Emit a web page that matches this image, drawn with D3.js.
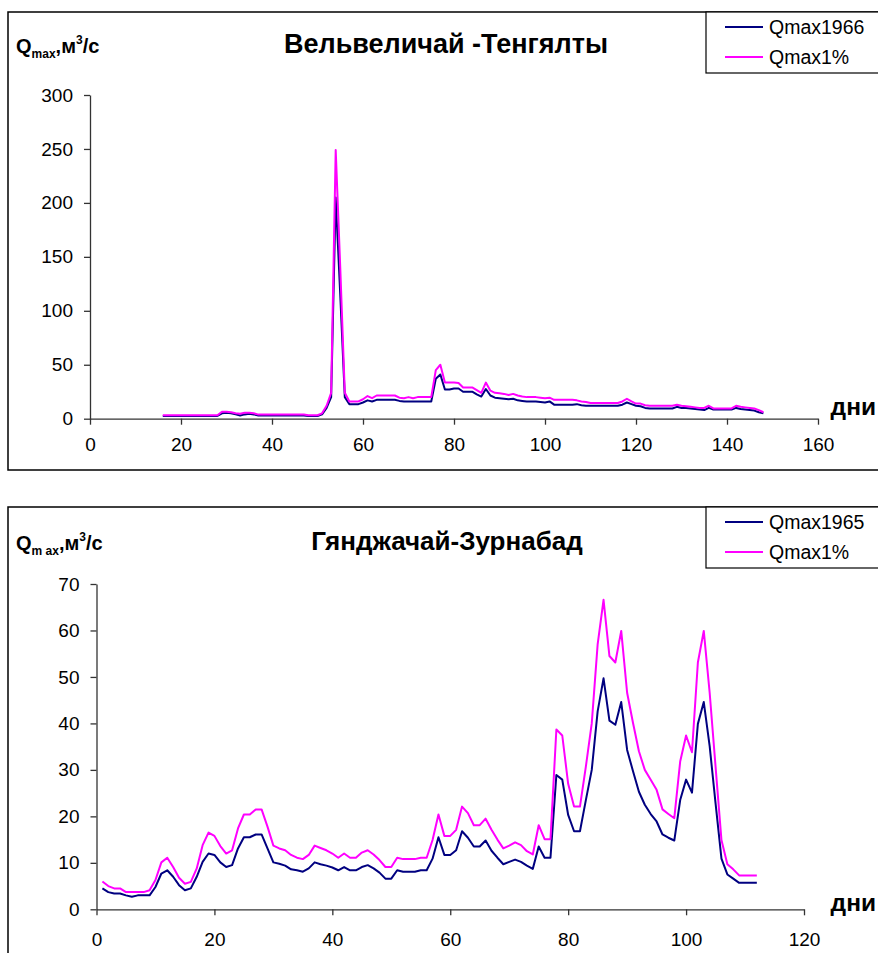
<!DOCTYPE html>
<html>
<head>
<meta charset="utf-8">
<script src="https://cdn.jsdelivr.net/npm/d3@7"></script>
<style>
  body { margin: 0; background: #fff; }
  svg text { font-family: Arial, "Liberation Sans", sans-serif; fill: #000; }
</style>
</head>
<body>
<svg id="chart" width="878" height="953"></svg>
<script>
// Вельвеличай - Тенгялты: daily maximum discharge, days 16..148
const velFirstDay = 16;
const velQmax1966 = [
  2.5, 2.5, 2.5, 2.5, 2.5, 2.5, 2.5, 2.5, 2.5, 2.5,
  2.5, 2.5, 2.5, 5, 5.5, 5, 4, 3, 4, 4.5,
  4, 3, 3, 3, 3, 3, 3, 3, 3, 3,
  3, 3, 2.5, 2.5, 2.5, 4, 10, 20, 205, 115,
  20, 13.5, 13.5, 13.5, 15, 17, 16, 17.5, 17.5, 17.5,
  17.5, 17.5, 16.5, 16, 16, 16, 16, 16, 16, 16,
  37, 41, 27, 27, 28, 28, 25, 25, 25, 22.5,
  20.5, 27.5, 21.5, 19.5, 19, 18.5, 18, 18.5, 17, 16.5,
  16, 16, 16, 15.5, 15, 16, 13, 13, 13, 13,
  13, 13.5, 12.5, 12, 12, 12, 12, 12, 12, 12,
  12, 13, 15, 13.5, 12, 11.5, 10, 9.5, 9.5, 9.5,
  9.5, 9.5, 9.5, 11, 10, 10, 9.5, 9, 8.5, 8,
  10, 8.5, 8.5, 8.5, 8.5, 8.5, 10, 9, 8.5, 8,
  7.5, 6, 5
];
const velQmax1pct = [
  3.2, 3.2, 3.2, 3.2, 3.2, 3.2, 3.2, 3.2, 3.2, 3.2,
  3.2, 3.2, 3.2, 6.5, 6.5, 6, 5, 4.5, 5.5, 5.5,
  5, 3.8, 3.8, 3.8, 3.8, 3.8, 3.8, 3.8, 3.8, 3.8,
  3.8, 3.8, 3.2, 3.2, 3.2, 5, 12, 24, 249, 140,
  24, 16, 16, 16, 18, 21, 19, 21.5, 21.5, 21.5,
  21.5, 21.5, 19.5, 19, 20, 19, 20, 20, 20, 20,
  45, 50, 33.5, 33.5, 33.5, 33, 29, 29, 29, 26.5,
  24, 33.5, 26, 24, 23.5, 23, 22, 23, 21.5, 20.5,
  20, 20, 20, 19.5, 19, 19.5, 17.5, 17.5, 17.5, 17.5,
  17.5, 17, 16, 15.5, 14.5, 14.5, 14.5, 14.5, 14.5, 14.5,
  14.5, 16, 18.5, 16, 14, 14, 12.5, 12, 12, 12,
  12, 12, 12, 13, 12, 11.5, 11, 10.5, 10, 10,
  12, 9.5, 9.5, 9.5, 9.5, 9.5, 12, 11, 10.5, 10,
  9.5, 8, 6
];
const velXTicks = [0, 20, 40, 60, 80, 100, 120, 140, 160];
const velYTicks = [0, 50, 100, 150, 200, 250, 300];

// Гянджачай - Зурнабад: daily maximum discharge, days 1..112
const ganFirstDay = 1;
const ganQmax1965 = [
  4.5, 3.7, 3.4, 3.4, 3.0, 2.7, 3.0, 3.0, 3.0, 4.8,
  7.7, 8.4, 7.0, 5.2, 4.1, 4.5, 7.0, 10.2, 12.0, 11.7,
  10.1, 9.1, 9.5, 13.1, 15.5, 15.5, 16.1, 16.1, 13.1, 10.1,
  9.8, 9.4, 8.6, 8.4, 8.1, 8.8, 10.1, 9.7, 9.4, 9.0,
  8.4, 9.1, 8.4, 8.4, 9.1, 9.5, 8.8, 7.9, 6.6, 6.6,
  8.4, 8.1, 8.1, 8.1, 8.4, 8.4, 10.9, 15.5, 11.7, 11.7,
  12.7, 16.8, 15.4, 13.5, 13.5, 14.8, 12.6, 11.1, 9.7, 10.2,
  10.7, 10.2, 9.4, 8.7, 13.5, 11.1, 11.1, 28.9, 27.9, 20.3,
  16.8, 16.8, 23.5, 30.0, 42.6, 49.7, 40.6, 39.7, 44.6, 34.3,
  29.7, 25.3, 22.5, 20.5, 18.9, 16.1, 15.4, 14.8, 23.5, 27.9,
  25.1, 39.9, 44.6, 35.1, 22.8, 10.9, 7.5, 6.6, 5.7, 5.7,
  5.7, 5.7
];
const ganQmax1pct = [
  6.0, 5.0, 4.5, 4.5, 3.7, 3.7, 3.7, 3.7, 4.1, 6.3,
  10.1, 11.1, 9.1, 6.8, 5.5, 5.9, 8.8, 13.8, 16.5, 15.8,
  13.6, 12.0, 12.7, 17.4, 20.4, 20.4, 21.5, 21.5, 17.8, 13.7,
  13.1, 12.7, 11.7, 11.1, 10.8, 11.7, 13.7, 13.2, 12.7, 12.0,
  11.1, 12.0, 11.1, 11.1, 12.2, 12.7, 11.8, 10.6, 9.1, 9.1,
  11.1, 10.8, 10.8, 10.8, 11.1, 11.1, 14.9, 20.4, 15.8, 15.8,
  17.1, 22.1, 20.7, 18.1, 18.1, 19.5, 17.1, 15.0, 13.1, 13.7,
  14.4, 13.8, 12.5, 11.8, 18.1, 15.1, 15.1, 38.7, 37.4, 27.0,
  22.1, 22.1, 30.7, 40.0, 57.0, 66.6, 54.5, 53.1, 59.9, 46.6,
  40.1, 34.0, 30.0, 27.9, 25.7, 21.5, 20.5, 19.6, 31.8, 37.4,
  33.8, 53.1, 59.9, 46.6, 30.7, 14.9, 9.7, 8.6, 7.3, 7.3,
  7.3, 7.3
];
const ganXTicks = [0, 20, 40, 60, 80, 100, 120];
const ganYTicks = [0, 10, 20, 30, 40, 50, 60, 70];

const NAVY = "#000080";
const MAGENTA = "#ff00ff";

const svg = d3.select("#chart");

function drawPanel(p) {
  const g = svg.append("g");

  // outer chart frame
  g.append("rect")
    .attr("x", p.frame.x).attr("y", p.frame.y)
    .attr("width", p.frame.w).attr("height", p.frame.h)
    .attr("fill", "none").attr("stroke", "#000").attr("stroke-width", 1.5);

  const x = d3.scaleLinear().domain(p.xDomain).range(p.xRange);
  const y = d3.scaleLinear().domain(p.yDomain).range(p.yRange);

  // axes
  const xAxis = d3.axisBottom(x).tickValues(p.xTicks).tickSize(6).tickSizeOuter(0).tickPadding(p.xPad);
  const yAxis = d3.axisLeft(y).tickValues(p.yTicks).tickSize(6).tickSizeOuter(0).tickPadding(11);

  const gx = g.append("g").attr("transform", `translate(0,${p.yRange[0]})`).call(xAxis);
  const gy = g.append("g").attr("transform", `translate(${p.xRange[0]},0)`).call(yAxis);
  [gx, gy].forEach(a => {
    a.selectAll("path, line").attr("stroke", "#333").attr("stroke-width", 1.3);
    a.selectAll("text").attr("font-size", 19).attr("fill", "#000")
      .attr("font-family", 'Arial, "Liberation Sans", sans-serif');
  });

  // series lines
  const line = d3.line()
    .x((d, i) => x(p.firstDay + i))
    .y(d => y(d));
  p.series.forEach(s => {
    g.append("path").datum(s.values)
      .attr("d", line)
      .attr("fill", "none")
      .attr("stroke", s.color)
      .attr("stroke-width", 2)
      .attr("stroke-linejoin", "round");
  });

  // title
  g.append("text")
    .attr("x", p.titleX).attr("y", p.titleY)
    .attr("text-anchor", "middle")
    .attr("font-size", p.titleSize).attr("font-weight", "bold")
    .text(p.title);

  // y-axis unit label: Q_max, м³/с
  const q = g.append("text")
    .attr("x", 16).attr("y", p.titleY)
    .attr("font-weight", "bold").attr("font-size", 20);
  q.append("tspan").text("Q");
  q.append("tspan").attr("font-size", 12).attr("dy", 5).text(p.subText);
  q.append("tspan").attr("dy", -5).text(",м");
  q.append("tspan").attr("font-size", 12).attr("dy", -9).text("3");
  q.append("tspan").attr("dy", 9).text("/с");

  // x-axis unit label
  g.append("text")
    .attr("x", 876).attr("y", p.daysY)
    .attr("text-anchor", "end")
    .attr("font-size", 24.5).attr("font-weight", "bold")
    .text("дни");

  // legend
  const lg = g.append("g");
  lg.append("rect")
    .attr("x", 706).attr("y", p.frame.y)
    .attr("width", 200).attr("height", 61)
    .attr("fill", "#fff").attr("stroke", "#000").attr("stroke-width", 1.2);
  p.series.forEach((s, i) => {
    const ly = p.frame.y + 15 + i * 30;
    lg.append("line")
      .attr("x1", 725).attr("x2", 763).attr("y1", ly).attr("y2", ly)
      .attr("stroke", s.color).attr("stroke-width", 2);
    lg.append("text")
      .attr("x", 769).attr("y", ly + 7)
      .attr("font-size", 19.5)
      .text(s.name);
  });
}

drawPanel({
  frame: { x: 8, y: 12, w: 890, h: 458 },
  xDomain: [0, 160], xRange: [90, 818],
  yDomain: [0, 300], yRange: [418.7, 95],
  xTicks: velXTicks, yTicks: velYTicks, xPad: 13,
  firstDay: velFirstDay,
  series: [
    { name: "Qmax1966", values: velQmax1966, color: NAVY },
    { name: "Qmax1%", values: velQmax1pct, color: MAGENTA }
  ],
  title: "Вельвеличай -Тенгялты", titleX: 446, titleY: 53, titleSize: 27,
  subText: "max", daysY: 415
});

drawPanel({
  frame: { x: 8, y: 507, w: 890, h: 470 },
  xDomain: [0, 120], xRange: [96.5, 804],
  yDomain: [0, 70], yRange: [909.3, 584],
  xTicks: ganXTicks, yTicks: ganYTicks, xPad: 17,
  firstDay: ganFirstDay,
  series: [
    { name: "Qmax1965", values: ganQmax1965, color: NAVY },
    { name: "Qmax1%", values: ganQmax1pct, color: MAGENTA }
  ],
  title: "Гянджачай-Зурнабад", titleX: 447, titleY: 550, titleSize: 26,
  subText: "m ax", daysY: 911
});
</script>
</body>
</html>
